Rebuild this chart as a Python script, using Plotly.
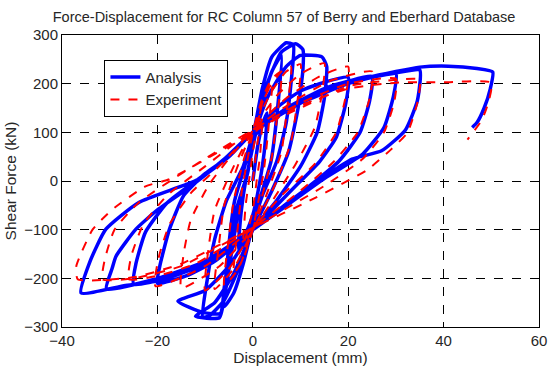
import plotly.graph_objects as go

# Analysis loop (displacement in mm, shear force in kN)
analysis_disp = [
    0,
    1, 2, 3, 2.4, 1.5, 0, -2, -3, -2.4, -1.5, 0,
    2, 4, 6, 5.2, 3.8, 2, 0, -2, -4, -6, -5.2, -3.8, -2, 0,
    2, 4, 7, 8.5, 8, 7, 5, 2, 0, -3, -6, -9, -10.5, -9.5, -8, -5.5, -2, 0,
    3, 6, 9, 10.5, 10.5, 9.5, 7.5, 4, 0, -4, -8, -12, -7, -5.8, -4.5, -3, -1, 0,
    3, 7, 10, 14.5, 15.5, 15, 13.5, 10, 5, 0, -5, -10, -15.7, -10.5, -6.8, -6, -5, -3.5, -1, 0,
    5, 10, 15, 20, 19.5, 17.5, 14, 8, 0, -8, -14, -20, -19.5, -17.5, -14.5, -10, -5, 0,
    8, 15, 20, 25, 24.5, 22.5, 18, 10, 0, -10, -18, -25, -24.5, -22.5, -18, -12, -5, 0,
    10, 20, 25, 30, 29.5, 27.5, 23, 15, 0, -10, -20, -30.7, -29.5, -28.7, -24.5, -19.8, -13, -6, 0,
    10, 20, 30, 35, 34.5, 32, 27, 20.8, 10, 0, -10, -20, -27, -36, -34.2, -30.8, -23.9, -11.5, -5, 0,
    10, 20, 30, 35, 41, 47, 50.3, 49.8, 48.5, 47, 46,
]
analysis_force = [
    0,
    70, 115, 140, 60, 0, -70, -120, -140, -60, 0, 70,
    160, 225, 258, 150, 40, -20, -90, -170, -230, -258, -150, -40, 20, 90,
    190, 255, 284, 280, 200, 120, 40, -30, -90, -180, -245, -276, -280, -200, -120, -40, 30, 95,
    200, 265, 282, 270, 228, 150, 60, -20, -100, -190, -250, -278, -281, -230, -150, -60, 20, 85,
    170, 235, 258, 255, 235, 170, 100, 30, -40, -100, -175, -225, -247, -270, -272, -220, -150, -60, 20, 85,
    150, 185, 203, 213, 160, 90, 40, -20, -100, -165, -195, -210, -175, -100, -30, 15, 50, 100,
    155, 190, 205, 215, 165, 100, 40, -25, -100, -170, -200, -212, -170, -105, -45, 0, 50, 100,
    160, 200, 213, 222, 175, 110, 55, 5, -100, -165, -200, -222, -180, -155, -99, -58, -11, 45, 100,
    165, 203, 222, 228, 165, 105, 62, 45, -25, -100, -168, -205, -215, -230, -167, -99, -44, 3, 50, 100,
    165, 203, 225, 234, 236, 231, 224, 190, 150, 120, 110,
]

# Experimental loop (displacement in mm, shear force in kN)
experiment_disp = [
    0,
    1, 2, 1.5, 0.8, 0, -1, -2, -1.5, -0.8, 0,
    2, 4, 3.3, 2.3, 1, 0, -2, -4, -3.3, -2.3, -1, 0,
    2, 4, 6, 5.2, 4, 2, 0, -3, -6, -5.2, -4, -2, 0,
    3, 6, 8, 7.2, 6, 3, 0, -4, -8, -7.2, -6, -3, 0,
    4, 7, 10, 9.3, 8, 5, 0, -5, -10, -9.3, -8, -4, 0,
    5, 10, 15, 14.5, 13, 9, 0, -7, -15, -14.5, -13, -9, 0,
    7, 14, 20, 19.5, 17.5, 13, 6, 0, -10, -20.4, -19.8, -17.5, -13, -6, 0,
    8, 16, 25, 24.5, 22, 17, 10, 0, -12, -20, -26, -25.5, -23, -18, -10, 0,
    10, 20, 30, 29.6, 27.5, 23, 15, 0, -15, -25, -31.5, -31, -29, -24, -15, 0,
    10, 20, 30, 35, 34.5, 32.4, 29, 24, 12, 0, -15, -25, -36.7, -37, -33.6, -29.5, -22.5, -17.7, -8, 0,
    10, 20, 30, 40, 50, 49.5, 48, 45,
]
experiment_force = [
    0,
    80, 130, 50, 0, -60, -100, -130, -50, 0, 60,
    160, 200, 110, 20, -50, -100, -160, -190, -110, -20, 50, 100,
    170, 210, 225, 140, 50, -30, -100, -180, -215, -130, -40, 40, 105,
    185, 225, 235, 150, 60, -25, -100, -180, -222, -140, -50, 35, 105,
    185, 225, 240, 160, 80, 0, -100, -180, -225, -140, -60, 30, 105,
    175, 220, 242, 180, 110, 35, -100, -175, -220, -150, -80, -5, 105,
    170, 215, 235, 175, 100, 35, -30, -96, -175, -216, -160, -90, -25, 40, 105,
    160, 205, 225, 170, 100, 40, -20, -96, -170, -195, -202, -155, -90, -30, 30, 105,
    160, 200, 210, 160, 100, 45, -10, -96, -175, -200, -202, -160, -100, -45, 15, 105,
    150, 195, 208, 208, 161, 99, 65, 23, -40, -96, -170, -198, -202, -175, -100, -59, -11, 3, 55, 100,
    155, 190, 202, 203, 202, 165, 125, 85,
]

x_ticks = [-40, -20, 0, 20, 40, 60]
y_ticks = [-300, -200, -100, 0, 100, 200, 300]

FONT = "Liberation Sans, Arial, sans-serif"
TEXT = "#262626"

fig = go.Figure()
fig.add_trace(go.Scatter(
    x=analysis_disp, y=analysis_force, mode="lines", name="Analysis",
    line=dict(color="#0000FF", width=3.5, shape="spline", smoothing=0.5),
))
fig.add_trace(go.Scatter(
    x=experiment_disp, y=experiment_force, mode="lines", name="Experiment",
    line=dict(color="#FF0000", width=2, dash="dash", shape="spline", smoothing=0.5),
))

axis_common = dict(
    showgrid=True, gridcolor="black", griddash="dash", gridwidth=1,
    zeroline=False, showline=True, linecolor="black", linewidth=1, mirror=True,
    ticks="inside", ticklen=5, tickcolor="black",
    tickfont=dict(family=FONT, size=15, color=TEXT),
)

fig.update_layout(
    width=557, height=374,
    margin=dict(l=62, r=10, t=35, b=46),
    paper_bgcolor="white", plot_bgcolor="white",
    title=dict(
        text="Force-Displacement for RC Column 57 of Berry and Eberhard Database",
        font=dict(family=FONT, size=14.5, color=TEXT),
        x=0.51, xanchor="center", y=0.955, yanchor="middle",
    ),
    xaxis=dict(range=[-40, 60], tickvals=x_ticks,
               title=dict(text="Displacement (mm)", font=dict(family=FONT, size=15.5, color=TEXT), standoff=4),
               **axis_common),
    yaxis=dict(range=[-300, 300], tickvals=y_ticks,
               title=dict(text="Shear Force (kN)", font=dict(family=FONT, size=15.5, color=TEXT), standoff=3),
               **axis_common),
    legend=dict(
        x=0.089, y=0.915, xanchor="left", yanchor="top",
        bgcolor="white", bordercolor="black", borderwidth=1,
        font=dict(family=FONT, size=15, color=TEXT),
        tracegroupgap=0, itemwidth=30,
    ),
    showlegend=True,
)

fig.write_html("out.html")
